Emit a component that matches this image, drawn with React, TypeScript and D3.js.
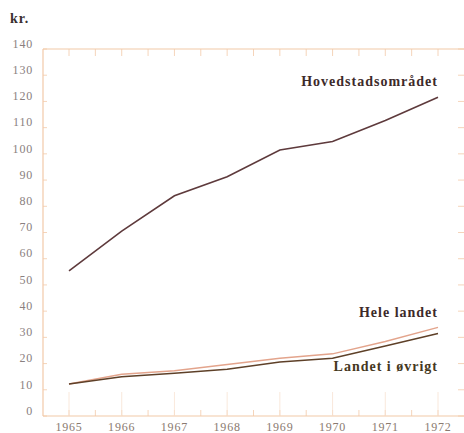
import React from "react";
import * as d3 from "d3";

const years = [1965, 1966, 1967, 1968, 1969, 1970, 1971, 1972];
const hovedstad = [55.4, 70.5, 84, 91.3, 101.5, 104.7, 112.7, 121.6];
const heleLandet = [12.2, 15.9, 17.3, 19.6, 22, 23.7, 28.4, 33.8];
const landetOvrigt = [12.2, 15.0, 16.3, 17.8, 20.6, 22, 26.7, 31.5];
const yTicks = [0, 10, 20, 30, 40, 50, 60, 70, 80, 90, 100, 110, 120, 130, 140];

const W = 464;
const H = 433;

export default function App() {
  const x = d3.scaleLinear().domain([1965, 1972]).range([69, 438]);
  const y = d3.scaleLinear().domain([0, 140]).range([416, 49]);
  const line = d3
    .line<number>()
    .x((_, i) => x(years[i]))
    .y((d) => y(d));

  const axisColor = "#f2c9a8";
  const tickFont = "'Liberation Serif', 'DejaVu Serif', serif";
  const halfYears = d3.range(1964.5, 1973.01, 0.5).filter((v) => x(v) > 45 && x(v) < W);

  return (
    <svg
      width={W}
      height={H}
      style={{ position: "absolute", left: 0, top: 0, background: "#fff" }}
    >
      <rect width={W} height={H} fill="#fff" />
      {/* frame */}
      <line x1={43} x2={43} y1={49} y2={416} stroke={axisColor} strokeWidth={1.2} />
      <line x1={43} x2={W} y1={416} y2={416} stroke={axisColor} strokeWidth={1.2} />
      <line x1={43} x2={W} y1={49} y2={49} stroke={axisColor} strokeWidth={1.2} />
      {/* top ticks */}
      {halfYears.map((v) => (
        <line key={"tt" + v} x1={x(v)} x2={x(v)} y1={49} y2={56} stroke={axisColor} strokeWidth={0.8} />
      ))}
      {/* bottom ticks */}
      {halfYears.map((v) => (
        <line key={"bt" + v} x1={x(v)} x2={x(v)} y1={416} y2={410} stroke={axisColor} strokeWidth={0.8} />
      ))}
      {/* faint partial verticals */}
      {years.map((v) => (
        <line key={"fv" + v} x1={x(v)} x2={x(v)} y1={416} y2={392} stroke="#f7e2d2" strokeWidth={0.8} />
      ))}
      {/* left ticks */}
      {yTicks.map((t) => (
        <line key={"lt" + t} x1={43} x2={47} y1={y(t)} y2={y(t)} stroke={axisColor} strokeWidth={0.8} />
      ))}
      {/* right ticks */}
      {yTicks.map((t) => (
        <line key={"rt" + t} x1={W - 6} x2={W} y1={y(t)} y2={y(t)} stroke={axisColor} strokeWidth={0.8} />
      ))}
      {/* y labels */}
      {yTicks.map((t) => (
        <text
          key={"yl" + t}
          x={33}
          y={y(t) - 4}
          textAnchor="end"
          dominantBaseline="middle"
          fontFamily={tickFont}
          fontSize={12}
          letterSpacing={0.8}
          fill="#8a8080"
        >
          {t}
        </text>
      ))}
      {/* x labels */}
      {years.map((v) => (
        <text
          key={"xl" + v}
          x={x(v)}
          y={428}
          textAnchor="middle"
          dominantBaseline="middle"
          fontFamily={tickFont}
          fontSize={12}
          letterSpacing={0.8}
          fill="#8a7a70"
        >
          {v}
        </text>
      ))}
      <text x={10} y={20} dominantBaseline="middle" fontFamily={tickFont} fontWeight="bold" fontSize={14} letterSpacing={1} fill="#3a3030">
        kr.
      </text>
      {/* lines */}
      <path d={line(hovedstad) || ""} fill="none" stroke="#5e3a3c" strokeWidth={1.6} />
      <path d={line(heleLandet) || ""} fill="none" stroke="#e3a48c" strokeWidth={1.5} />
      <path d={line(landetOvrigt) || ""} fill="none" stroke="#5e4028" strokeWidth={1.5} />
      {/* series labels */}
      <text x={438} y={83} textAnchor="end" dominantBaseline="middle" fontFamily={tickFont} fontWeight="bold" fontSize={14} letterSpacing={1} fill="#3d2a2a">
        Hovedstadsområdet
      </text>
      <text x={438} y={314} textAnchor="end" dominantBaseline="middle" fontFamily={tickFont} fontWeight="bold" fontSize={14} letterSpacing={1} fill="#3d2a2a">
        Hele landet
      </text>
      <text x={438} y={368} textAnchor="end" dominantBaseline="middle" fontFamily={tickFont} fontWeight="bold" fontSize={14} letterSpacing={1} fill="#45381e">
        Landet i øvrigt
      </text>
    </svg>
  );
}
